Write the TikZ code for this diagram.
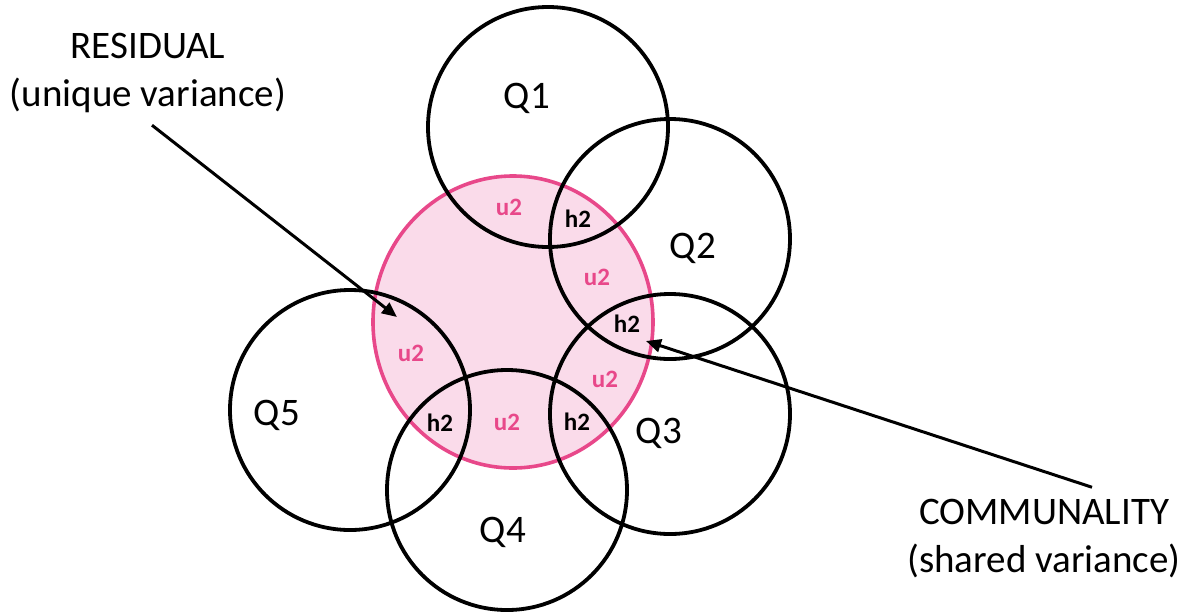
\documentclass[tikz,border=0pt]{standalone}
\usepackage{fontspec}
\setmainfont{Carlito}
\usetikzlibrary{arrows.meta, shapes.geometric}

\definecolor{rosepink}{HTML}{E8488A}
\definecolor{rosefill}{HTML}{FADBEA}

\tikzset{
  qcircle/.style={circle, draw=black, line width=1.9pt, minimum size=120pt, inner sep=0pt},
  bigtext/.style={font=\fontsize{19.5}{24}\selectfont, align=center, inner sep=0pt},
  ulabel/.style={font=\fontsize{12.5}{14}\selectfont\bfseries, text=rosepink},
  hlabel/.style={font=\fontsize{12.5}{14}\selectfont\bfseries},
  pointer/.style={line width=1.5pt, -{Triangle[length=7.5pt, width=6.5pt]}}
}

\begin{document}
\begin{tikzpicture}[x=0.5pt, y=-0.5pt]
  \useasboundingbox (0,0) rectangle (1191,612);

  % shared part (the factor)
  \node[ellipse, draw=rosepink, fill=rosefill, line width=1.8pt,
        minimum width=140pt, minimum height=146pt, inner sep=0pt] (common) at (513,322) {};

  % one circle per item
  \node[qcircle] (q1) at (548,127) {};
  \node[qcircle] (q2) at (670,239) {};
  \node[qcircle] (q3) at (670,414) {};
  \node[qcircle] (q4) at (507,490) {};
  \node[qcircle] (q5) at (350,410) {};

  \node[bigtext] (q1text) at (527,98) {Q1};
  \node[bigtext] (q2text) at (693,248) {Q2};
  \node[bigtext] (q3text) at (659,433) {Q3};
  \node[bigtext] (q4text) at (503,532) {Q4};
  \node[bigtext] (q5text) at (277,415) {Q5};

  % unique and shared pieces
  \node[ulabel] (u1) at (509,207) {u2};
  \node[hlabel] (h1) at (578,219) {h2};
  \node[ulabel] (u2) at (597,277) {u2};
  \node[hlabel] (h2) at (627,324) {h2};
  \node[ulabel] (u3) at (605,379) {u2};
  \node[hlabel] (h3) at (577,422) {h2};
  \node[ulabel] (u4) at (507,422) {u2};
  \node[hlabel] (h4) at (440,423) {h2};
  \node[ulabel] (u5) at (411,353) {u2};

  % callouts
  \node[bigtext] (residual) at (148,73) {RESIDUAL\\(unique variance)};
  \node[bigtext] (communality) at (1044,539) {COMMUNALITY\\(shared variance)};

  \coordinate (rtip) at (397,317);
  \coordinate (ctip) at (646,341);

  \draw[pointer] ([xshift=2pt,yshift=-6pt]residual.south) -- (rtip);
  \draw[pointer] ([xshift=24pt,yshift=6pt]communality.north) -- (ctip);
\end{tikzpicture}
\end{document}
